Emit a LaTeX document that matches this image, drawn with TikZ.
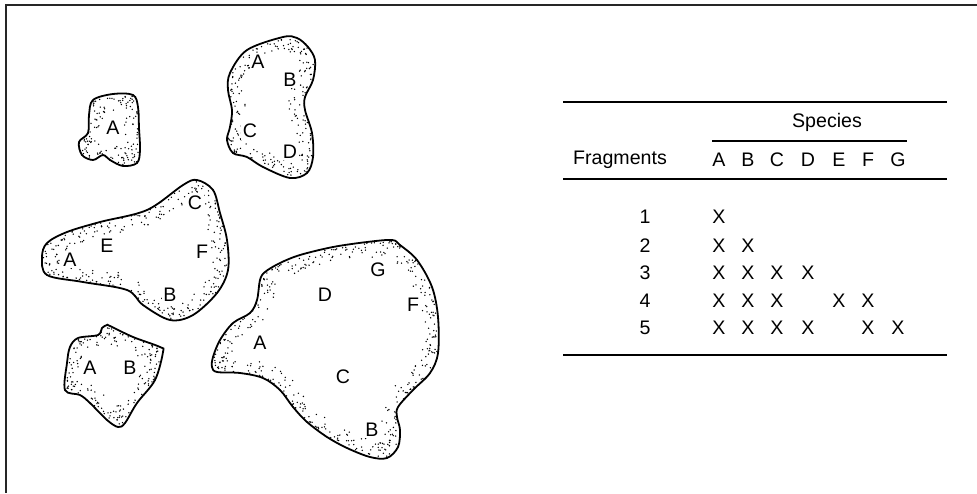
\documentclass[tikz,border=0pt]{standalone}
\usepackage{fontspec}
\setmainfont{Liberation Sans}
\usetikzlibrary{calc}
\tikzstyle{txt} = [font=\fontsize{9.8}{11}\selectfont, inner sep=0pt]
\tikzstyle{spname} = [txt, fill=white, inner sep=0.8pt]
\tikzstyle{rim} = [draw=black, line width=0.9pt]
\tikzstyle{rule} = [draw=black, line width=1pt]
\tikzstyle{speck} = [fill=black]
% one fragment: outline through x/y points, stippled band inside it
\newcommand{\fragment}[1]{%
  \gdef\fragpath{}%
  \foreach \xx/\yy in {#1}{\xdef\fragpath{\fragpath(\xx,\yy) }\xdef\lastx{\xx}\xdef\lasty{\yy}}%
  \begin{scope}
    \edef\fragclip{\noexpand\clip plot[smooth cycle, tension=0.55] coordinates {\fragpath};}\fragclip
    \foreach \xx/\yy [remember=\xx as \px (initially \lastx),
                      remember=\yy as \py (initially \lasty)] in {#1}{%
      \pgfmathtruncatemacro\ndots{max(1, 0.6*veclen(\xx-\px,\yy-\py))}%
      \foreach \k in {1,...,\ndots}{%
        \pgfmathsetmacro\dotT{rnd}%
        \pgfmathsetmacro\dotD{0.6+7.4*rnd^1.6}%
        \fill[speck] ($(\px,\py)!\dotT!(\xx,\yy)!\dotD pt!-90:(\xx,\yy)$) circle (0.38pt);
      }%
    }
  \end{scope}
  \edef\fragrim{\noexpand\draw[rim] plot[smooth cycle, tension=0.55] coordinates {\fragpath};}\fragrim
}

\begin{document}
\begin{tikzpicture}[x=0.5pt, y=-0.5pt]
    \pgfmathsetseed{4711}
    \useasboundingbox (0,0) rectangle (977,493);

    % frame on top and left
    \coordinate (frameTL) at (6,5);
    \coordinate (frameTR) at (977,5);
    \coordinate (frameBL) at (6,493);
    \draw [line width=1pt, black!85] (frameTR) -- (frameTL) -- (frameBL);

    % the five fragments
    \fragment{93/100, 113/94, 133/95, 138/107, 139/128, 140/150, 137/163,
        123/166, 110/160, 103/155, 93/160, 82/155, 79/142, 88/133, 89/115}
    \fragment{283/37, 297/38, 308/47, 315/60, 313/80, 305/97, 305/110,
        312/133, 313/157, 307/173, 290/178, 263/167, 247/157, 233/153,
        227/140, 230/127, 232/110, 228/90, 230/73, 247/50}
    \fragment{197/180, 213/190, 220/213, 227/240, 228/270, 217/293,
        193/315, 170/320, 143/305, 127/290, 83/282, 47/275, 42/257,
        47/243, 67/232, 100/222, 147/210, 183/185}
    \fragment{107/325, 110/326, 133/337, 160/347, 163/352, 155/380,
        137/403, 125/423, 118/427, 107/420, 90/403, 80/395, 65/390,
        67/363, 70/347, 78/338, 98/335, 102/328}
    \fragment{392/240, 400/245, 417/260, 432/287, 438/317, 438/353,
        430/373, 413/390, 398/407, 397/417, 400/430, 398/447, 387/458,
        370/457, 347/448, 327/437, 307/422, 293/407, 280/390, 263/378,
        240/373, 217/372, 212/367, 213/357, 220/340, 233/323, 250/313,
        257/300, 260/280, 265/272, 280/263, 300/255, 333/247, 367/242}

    % species found in each fragment
    \node [spname] (f1a) at (113,128) {A};
    \node [spname] (f2a) at (258,62) {A};
    \node [spname] (f2b) at (290,80) {B};
    \node [spname] (f2c) at (250,131) {C};
    \node [spname] (f2d) at (290,152) {D};
    \node [spname] (f3c) at (195,203) {C};
    \node [spname] (f3e) at (107,246) {E};
    \node [spname] (f3f) at (202,252) {F};
    \node [spname] (f3a) at (70,260) {A};
    \node [spname] (f3b) at (170,295) {B};
    \node [spname] (f4a) at (90,368) {A};
    \node [spname] (f4b) at (130,368) {B};
    \node [spname] (f5g) at (378,270) {G};
    \node [spname] (f5d) at (325,295) {D};
    \node [spname] (f5f) at (413,305) {F};
    \node [spname] (f5a) at (260,343) {A};
    \node [spname] (f5c) at (343,377) {C};
    \node [spname] (f5b) at (372,430) {B};

    % the table
    \coordinate (topL) at (563,102);  \coordinate (topR) at (947,102);
    \coordinate (spL) at (712,141);   \coordinate (spR) at (907,141);
    \coordinate (midL) at (563,179);  \coordinate (midR) at (947,179);
    \coordinate (botL) at (563,355);  \coordinate (botR) at (947,355);
    \draw [rule] (topL) -- (topR);
    \draw [line width=0.6pt] (spL) -- (spR);
    \draw [rule] (midL) -- (midR);
    \draw [rule] (botL) -- (botR);

    \node [txt] (species) at (827,122) {Species};
    \node [txt] (fragments) at (620,160) {Fragments};
    \foreach \sp/\xx in {A/719, B/748, C/777, D/808, E/839, F/868, G/898}
        \node [txt] (h\sp) at (\xx,160) {\sp};
    \foreach \row/\yy in {1/217, 2/246, 3/273, 4/301, 5/328}
        \node [txt] (r\row) at (645,\yy) {\row};
    \foreach \row/\cols in {1/{A}, 2/{A,B}, 3/{A,B,C,D}, 4/{A,B,C,E,F}, 5/{A,B,C,D,F,G}}
        \foreach \sp in \cols
            \node [txt] (x\row\sp) at (h\sp |- r\row) {X};

\end{tikzpicture}
\end{document}
